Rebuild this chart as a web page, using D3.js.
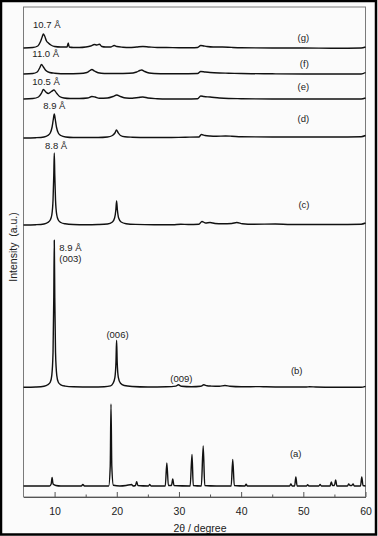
<!DOCTYPE html>
<html>
<head>
<meta charset="utf-8">
<script src="https://cdn.jsdelivr.net/npm/d3@7"></script>
<style>
  body { margin: 0; background: #fbfbfb; }
  svg { display: block; font-family: "Liberation Sans", Arial, sans-serif; }
</style>
</head>
<body>
<div id="fig"></div>
<script>
const width = 378
const height = 536

// tick labels on the 2θ axis
const majorTicks = [10, 20, 30, 40, 50, 60]
const minorTicks = [15, 25, 35, 45, 55]

// sample names, bottom to top, and where each baseline sits (a.u.)
const samples = ['a', 'b', 'c', 'd', 'e', 'f', 'g']
const offsets = [11, 109.7, 272, 359, 398, 423, 449]

// [2θ, intensity above baseline]
const trace_a = [[5, 0], [9.2, 0], [9.45, 2], [9.6, 8.5], [9.75, 2], [10.2, 0.5], [11, 0], [14.3, 0], [14.55, 1.5], [14.8, 0],
  [18.7, 0], [18.95, 20], [19.07, 82], [19.2, 20], [19.45, 0.8], [20.5, 0], [21.5, 0.5], [22.4, 1.5], [22.6, 0], [23.0, 0.5],
  [23.2, 4.3], [23.4, 0.5], [25.1, 0], [25.3, 1.5], [25.5, 0], [27.8, 0], [28.05, 23], [28.3, 0.5], [28.8, 0.5], [29.0, 7],
  [29.2, 0.5], [31.8, 0], [32.1, 31.5], [32.3, 0.5], [33.6, 0], [33.9, 40], [34.15, 0.5], [36, 0], [38.4, 0], [38.65, 26.5],
  [38.9, 0.5], [40.6, 0], [40.8, 1.7], [41.0, 0], [47.8, 0], [48.0, 2], [48.2, 0], [48.6, 0], [48.8, 9], [49.0, 0], [50.5, 0],
  [50.7, 1.2], [50.9, 0], [52.5, 0], [52.7, 1.5], [52.9, 0], [54.3, 0], [54.5, 4], [54.7, 0.5], [55.0, 0.5], [55.2, 6],
  [55.4, 0], [57.1, 0], [57.3, 2], [57.5, 0.5], [57.8, 0.5], [58.0, 2], [58.2, 0], [59.2, 0], [59.4, 9], [59.6, 0.5], [60, 0]]

const trace_b = [[5, 0], [7, 0.3], [8.3, 1], [8.9, 2.5], [9.3, 5], [9.55, 12], [9.75, 35], [9.87, 90], [9.95, 147], [10.03, 90],
  [10.15, 35], [10.35, 12], [10.6, 5], [11.0, 2.5], [11.7, 1.2], [13, 0.5], [16, 0.3], [18, 0.6], [19.0, 1.5], [19.4, 4],
  [19.7, 10], [19.87, 25], [19.97, 47], [20.07, 25], [20.25, 10], [20.6, 4], [21.2, 1.8], [22.5, 0.8], [25, 0.3], [28, 0.5],
  [29.5, 1.2], [29.9, 2.5], [30.4, 1], [32, 0.5], [33.5, 1], [34.0, 2.5], [34.5, 1.5], [35.2, 1.2], [36.5, 1], [37.4, 1.8],
  [38.2, 1], [40, 0.5], [43, 0.7], [44, 0.5], [47, 0.3], [50.5, 0.3], [51, 0.6], [52, 0.3], [55, 0], [59.3, 0], [60, 1]]

const trace_c = [[5, 0], [7, 0.3], [8.3, 1], [8.9, 2.5], [9.3, 5], [9.55, 10], [9.75, 25], [9.87, 50], [9.95, 72], [10.03, 50],
  [10.15, 25], [10.35, 10], [10.6, 5], [11.0, 2.5], [11.7, 1.2], [13, 0.5], [15, 0.3], [17, 0.5], [18.5, 1], [19.3, 3],
  [19.65, 7], [19.85, 15], [19.97, 24], [20.1, 15], [20.3, 7], [20.7, 3], [21.5, 1.3], [23, 0.6], [26, 0.3], [29, 0.3],
  [30.3, 0.8], [31.5, 0.5], [33.2, 0.8], [33.7, 3.5], [34.3, 2], [35.0, 2.5], [35.8, 1.5], [37, 1.2], [38.5, 1.5], [39.3, 2.5],
  [40.2, 1.3], [42, 0.8], [45.5, 1], [48, 0.5], [50, 0.5], [55, 0.5], [59.3, 0.8], [60, 2]]

const trace_d = [[5, 0], [7, 0.3], [8.3, 1], [8.9, 2.5], [9.3, 5], [9.6, 11], [9.8, 19], [9.95, 24], [10.1, 19], [10.3, 11],
  [10.6, 5], [11.0, 2.5], [11.8, 1], [13, 0.5], [15, 0.5], [17, 0.5], [18.5, 1], [19.3, 2.5], [19.7, 5], [19.95, 8],
  [20.2, 5.5], [20.6, 2.5], [21.3, 1.2], [22.5, 0.8], [25, 0.5], [28, 0.5], [31, 0.8], [33.2, 1], [33.6, 3.5], [34.2, 2.5],
  [35, 2], [36, 1.8], [37.5, 2], [38.5, 1.8], [40, 1.3], [45, 1], [50, 1], [55, 1], [59.3, 1.3], [60, 2.5]]

const trace_e = [[5, 0], [6.5, 0.5], [7.4, 2], [7.9, 6], [8.2, 9.5], [8.6, 7], [9.0, 5.5], [9.5, 7.5], [9.9, 9], [10.3, 6],
  [10.8, 2.5], [11.5, 1], [12.5, 0.5], [14, 0.5], [15.3, 1], [16.0, 2.5], [16.5, 2], [17.2, 0.8], [18.5, 1], [19.4, 2.5],
  [20.0, 4], [20.6, 2.5], [21.5, 1], [22.5, 0.8], [23.5, 1.5], [24.2, 2], [25, 1], [26.5, 0.3], [28, 0], [31, 0], [33, 0.3],
  [33.5, 3], [34, 2.5], [35, 2], [36.5, 1], [38, 0.5], [40, 0.3], [45, 0], [50, 0], [55, 0], [59.3, 0], [60, 1]]

const trace_f = [[5, 0], [6.5, 0.5], [7.2, 2], [7.6, 6], [7.9, 9.5], [8.2, 7], [8.6, 3.5], [9.2, 1.5], [10, 0.8], [12, 0.3],
  [14, 0.5], [15.2, 1.5], [15.7, 3.5], [16.0, 4.5], [16.4, 3], [17, 1.2], [18, 0.5], [20, 0.5], [22, 0.7], [23.2, 2],
  [23.7, 3.5], [24.0, 4], [24.5, 2.5], [25.2, 1], [26, 0.5], [28, 0.3], [30, 0.3], [33, 0.5], [33.5, 2.5], [34.2, 2],
  [35, 1.5], [36.5, 1], [38, 0.8], [40, 0.5], [45, 0.2], [50, 0], [55, 0], [59.3, 0], [60, 1.5]]

const trace_g = [[5, 0], [6.5, 0.5], [7.3, 2], [7.7, 6], [8.0, 11], [8.2, 14], [8.4, 12], [8.7, 7], [9.0, 5], [9.4, 3],
  [10, 1.5], [11, 1], [12.0, 1], [12.2, 5], [12.35, 1], [13, 0.5], [14, 0.5], [15, 1], [15.8, 2], [16.4, 3.5], [16.8, 3],
  [17.2, 3.8], [17.6, 1.5], [18.2, 1], [19.0, 1], [19.6, 2.5], [20.0, 1.5], [21, 0.8], [22, 0.5], [23.2, 1], [24.2, 1.5],
  [25.2, 1], [26.5, 0.5], [28, 0.5], [30, 0.3], [32, 0.3], [33.0, 0.5], [33.5, 2.5], [34.0, 2], [34.5, 1.5], [35.5, 1],
  [37, 1], [38.5, 0.6], [40, 0.3], [45, 0], [50, 0], [55, -0.3], [59.3, 0], [60, 1]]

const traces = [trace_a, trace_b, trace_c, trace_d, trace_e, trace_f, trace_g]

// annotations in data units: [text, 2θ, a.u., anchor]
const notes = [
  ['10.7 Å', 6.53, 469, 'start'], ['11.0 Å', 6.42, 440, 'start'], ['10.5 Å', 6.42, 412.5, 'start'],
  ['8.9 Å', 8.18, 388.5, 'start'], ['8.8 Å', 8.46, 348.5, 'start'],
  ['8.9 Å', 10.76, 246, 'start'], ['(003)', 10.76, 235, 'start'],
  ['(006)', 20.12, 159.5, 'middle'], ['(009)', 30.4, 115, 'middle'],
  ['(g)', 50.0, 456.5, 'middle'], ['(f)', 50.16, 430, 'middle'], ['(e)', 50.0, 407.5, 'middle'],
  ['(d)', 50.0, 375, 'middle'], ['(c)', 50.1, 289.5, 'middle'], ['(b)', 48.94, 123, 'middle'],
  ['(a)', 48.78, 40.5, 'middle']
]

const margin = {top: 7, right: 12.5, bottom: 39, left: 23.5}

const fig = d3.select('#fig')
            .append('svg')
            .attr('width', width)
            .attr('height', height)

const xScale = d3.scaleLinear()
                 .domain([5, 60])
                 .range([margin.left, width - margin.right])

const yScale = d3.scaleLinear()
                 .domain([0, 490])
                 .range([height - margin.bottom, margin.top])

// plot frame
fig.append('rect')
   .attr('x', margin.left)
   .attr('y', margin.top)
   .attr('width', width - margin.left - margin.right)
   .attr('height', height - margin.top - margin.bottom)
   .attr('fill', 'none')
   .attr('stroke', '#7a7a7a')
   .attr('stroke-width', 1)

const xAxis = d3.axisBottom(xScale)
                .tickValues(majorTicks)
                .tickSizeInner(-5)
                .tickSizeOuter(0)
                .tickPadding(10.5)

const gx = fig.append('g')
   .attr('transform', `translate(0,${height - margin.bottom})`)
   .call(xAxis)
gx.select('.domain').attr('stroke', '#555')
gx.selectAll('line').attr('stroke', '#555')
gx.selectAll('text').attr('font-size', 10.5).attr('fill', '#222')
   .attr('font-family', '"Liberation Sans", Arial, sans-serif')

const gm = fig.append('g')
   .attr('transform', `translate(0,${height - margin.bottom})`)
   .call(d3.axisBottom(xScale).tickValues(minorTicks).tickSizeInner(-2.5).tickSizeOuter(0).tickFormat(''))
gm.select('.domain').remove()
gm.selectAll('line').attr('stroke', '#555')

const line = d3.line()
               .x(d => xScale(d[0]))
               .y(d => d[1])
               .curve(d3.curveMonotoneX)

fig.selectAll('path.trace')
   .data(traces)
   .enter()
   .append('path')
   .attr('class', 'trace')
   .attr('d', (tr, i) => line(tr.map(p => [p[0], yScale(p[1] + offsets[i])])))
   .attr('fill', 'none')
   .attr('stroke', '#111')
   .attr('stroke-width', 1.4)
   .attr('stroke-linejoin', 'round')

fig.selectAll('text.note')
   .data(notes)
   .enter()
   .append('text')
   .attr('class', 'note')
   .attr('x', d => xScale(d[1]))
   .attr('y', d => yScale(d[2]))
   .attr('text-anchor', d => d[3])
   .attr('font-size', 9.5)
   .attr('fill', '#222')
   .text(d => d[0])

// axis titles
fig.append('text')
   .attr('x', 200)
   .attr('y', 532)
   .attr('text-anchor', 'middle')
   .attr('font-size', 10.5)
   .attr('fill', '#222')
   .text('2θ / degree')

fig.append('text')
   .attr('transform', 'translate(16.5,247) rotate(-90)')
   .attr('text-anchor', 'middle')
   .attr('font-size', 10.5)
   .attr('fill', '#222')
   .style('white-space', 'pre')
   .text('Intensity  (a.u.)')

// outer black frame
fig.append('rect')
   .attr('x', 1)
   .attr('y', 1)
   .attr('width', 375)
   .attr('height', 533.5)
   .attr('fill', 'none')
   .attr('stroke', '#000')
   .attr('stroke-width', 2.5)
</script>
</body>
</html>
